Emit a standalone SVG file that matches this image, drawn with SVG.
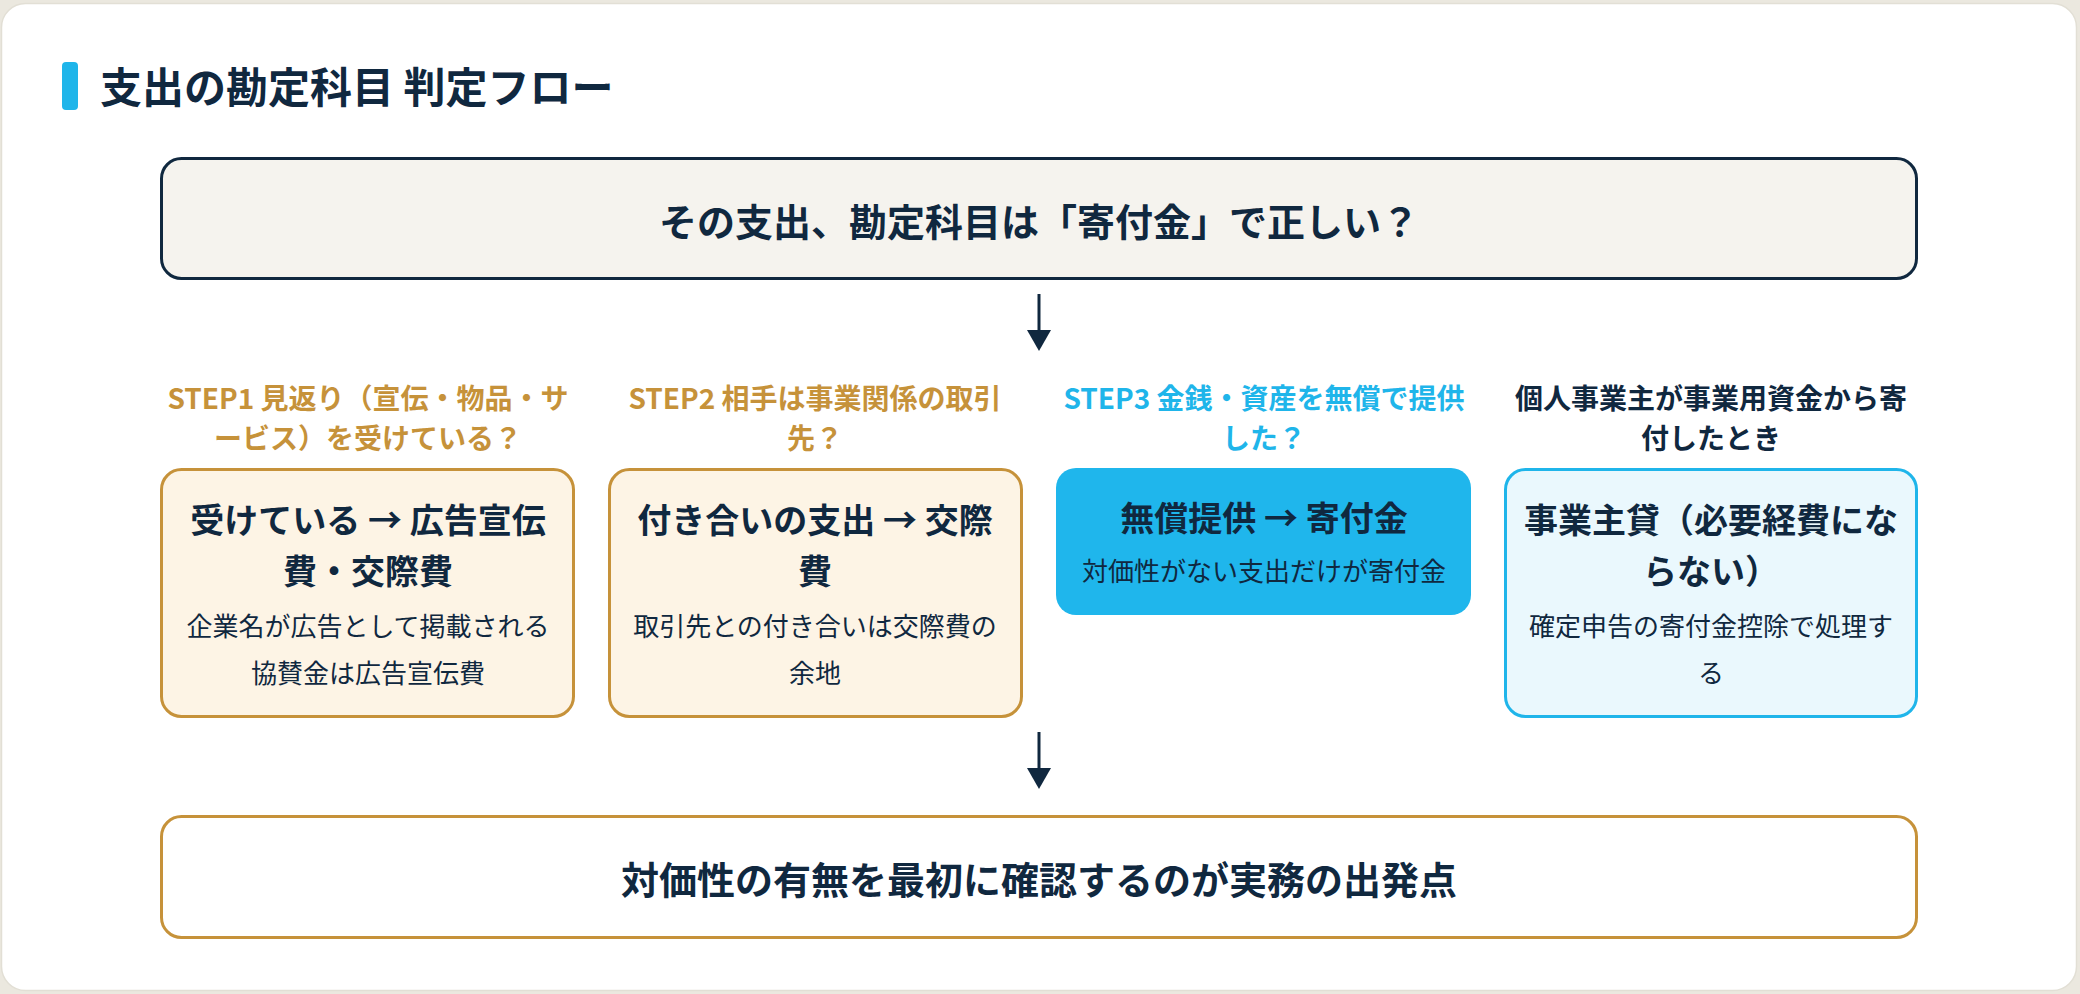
<svg xmlns="http://www.w3.org/2000/svg" width="2080" height="994" viewBox="0 0 2080 994">
<style>
text{font-family:"Noto Sans CJK JP","Noto Sans",sans-serif;text-anchor:middle}
.title{font-size:42px;font-weight:700;fill:#10283f;text-anchor:start}
.big{font-size:38px;font-weight:700;fill:#10283f}
.lbl{font-size:28px;font-weight:700}
.gold{fill:#c6923a}
.sky{fill:#1fb5ea}
.navy{fill:#10283f}
.ct{font-size:34px;font-weight:700;fill:#10283f}
.cs{font-size:26px;font-weight:400;fill:#10283f}
.cardG{fill:#fdf4e5;stroke:#c6923a;stroke-width:3}
.cardB{fill:#eaf8fd;stroke:#1fb5ea;stroke-width:3}
.cardS{fill:#1fb6ec}
.conn{stroke:#10283f;stroke-width:3;fill:none}
</style>
<defs>
<marker id="ah" markerWidth="8" markerHeight="7" refX="8" refY="3.5" orient="auto" markerUnits="strokeWidth">
<path d="M0,0 L8,3.5 L0,7 Z" fill="#10283f"/>
</marker>
</defs>
<rect x="0" y="0" width="2080" height="994" fill="#ebe8df"/>
<rect x="1.5" y="3.5" width="2075" height="987" rx="24" fill="#ffffff" stroke="#e2dfd5" stroke-width="1.5"/>
<g id="title">
<rect x="62" y="62" width="16" height="48" rx="4" fill="#1fb5ea"/>
<text class="title" x="100" y="103">支出の勘定科目 判定フロー</text>
</g>
<g id="question">
<rect x="161.5" y="158.5" width="1755" height="120" rx="20" fill="#f5f3ee" stroke="#10283f" stroke-width="3"/>
<text class="big" x="1039" y="236">その支出、勘定科目は「寄付金」で正しい？</text>
</g>
<g id="connectors">
<line class="conn" x1="1039" y1="294" x2="1039" y2="330"/>
<path d="M1027,330 L1051,330 L1039,351 Z" fill="#10283f"/>
<line class="conn" x1="1039" y1="732" x2="1039" y2="768"/>
<path d="M1027,768 L1051,768 L1039,789 Z" fill="#10283f"/>
</g>
<g id="step1">
<text class="lbl gold" x="368" y="409">STEP1 見返り（宣伝・物品・サ</text>
<text class="lbl gold" x="368" y="449">ービス）を受けている？</text>
<rect class="cardG" x="161.5" y="469.5" width="412" height="247" rx="20"/>
<text class="ct" x="368" y="533">受けている → 広告宣伝</text>
<text class="ct" x="368" y="584">費・交際費</text>
<text class="cs" x="368" y="636">企業名が広告として掲載される</text>
<text class="cs" x="368" y="683">協賛金は広告宣伝費</text>
</g>
<g id="step2">
<text class="lbl gold" x="815" y="409">STEP2 相手は事業関係の取引</text>
<text class="lbl gold" x="815" y="449">先？</text>
<rect class="cardG" x="609.5" y="469.5" width="412" height="247" rx="20"/>
<text class="ct" x="815" y="533">付き合いの支出 → 交際</text>
<text class="ct" x="815" y="584">費</text>
<text class="cs" x="815" y="636">取引先との付き合いは交際費の</text>
<text class="cs" x="815" y="683">余地</text>
</g>
<g id="step3">
<text class="lbl sky" x="1264" y="409">STEP3 金銭・資産を無償で提供</text>
<text class="lbl sky" x="1264" y="449">した？</text>
<rect class="cardS" x="1056" y="468" width="415" height="147" rx="20"/>
<text class="ct" x="1264" y="531">無償提供 → 寄付金</text>
<text class="cs" x="1264" y="581">対価性がない支出だけが寄付金</text>
</g>
<g id="step4">
<text class="lbl navy" x="1711" y="409">個人事業主が事業用資金から寄</text>
<text class="lbl navy" x="1711" y="449">付したとき</text>
<rect class="cardB" x="1505.5" y="469.5" width="411" height="247" rx="20"/>
<text class="ct" x="1711" y="533">事業主貸（必要経費にな</text>
<text class="ct" x="1711" y="584">らない）</text>
<text class="cs" x="1711" y="636">確定申告の寄付金控除で処理す</text>
<text class="cs" x="1711" y="683">る</text>
</g>
<g id="conclusion">
<rect x="161.5" y="816.5" width="1755" height="121" rx="20" fill="#ffffff" stroke="#c6923a" stroke-width="3"/>
<text class="big" x="1039" y="894">対価性の有無を最初に確認するのが実務の出発点</text>
</g>
</svg>
